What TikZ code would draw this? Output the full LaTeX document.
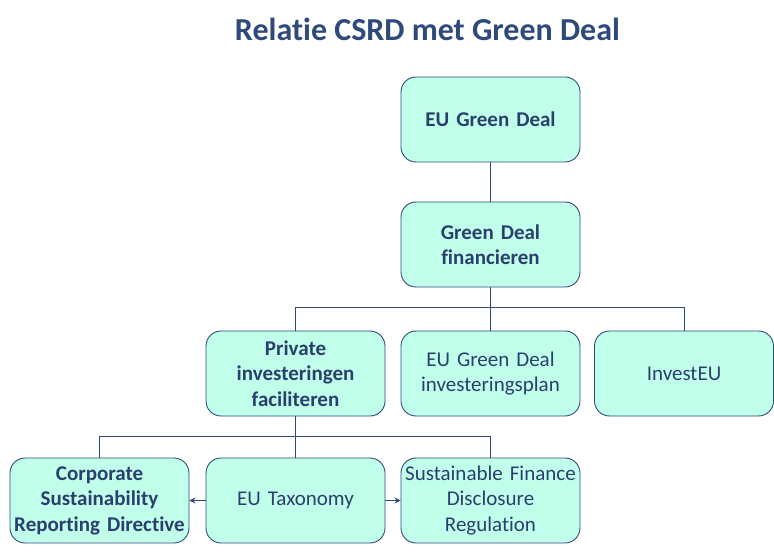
\documentclass[tikz,border=0pt]{standalone}
\usepackage{fontspec}
\setmainfont{Carlito}[Ligatures=NoCommon]
\usetikzlibrary{arrows.meta}
\definecolor{boxfill}{HTML}{C0FFEA}
\definecolor{boxline}{HTML}{2F4A7A}
\definecolor{txt}{HTML}{2B3F6E}
\definecolor{ttl}{HTML}{2E4A7D}
\tikzset{
  box/.style={draw=boxline, fill=boxfill, line width=0.9pt, rounded corners=15pt,
    minimum width=179pt, minimum height=85pt, text width=178pt, align=center,
    text=txt, font=\fontsize{21}{25.5}\selectfont, inner sep=0.5pt},
  bbox/.style={box, font=\fontsize{21}{25.5}\selectfont\bfseries},
  conn/.style={draw=boxline, line width=0.9pt},
  arr/.style={conn, -{Stealth[length=6pt,width=6pt]}}
}
\begin{document}
\begin{tikzpicture}[x=1pt,y=-1pt]
\useasboundingbox (0,0) rectangle (774,553);
\node[text=ttl, font=\fontsize{32}{36}\selectfont\bfseries] (title) at (427.5,29) {Relatie CSRD met Green Deal};
\node[bbox] (egd) at (490.5,119.5) {EU Green Deal};
\node[bbox] (gdf) at (490.5,244.5) {Green Deal\\financieren};
\node[bbox] (pif) at (295.5,373.5) {Private\\investeringen\\faciliteren};
\node[box] (egdi) at (490.5,373.5) {EU Green Deal\\investeringsplan};
\node[box] (ieu) at (684,373.5) {InvestEU};
\node[bbox] (csrd) at (99.5,500.5) {Corporate\\Sustainability\\Reporting Directive};
\node[box] (tax) at (295.5,500.5) {EU Taxonomy};
\node[box] (sfdr) at (490.5,500.5) {Sustainable Finance\\Disclosure\\Regulation};
\draw[conn] (egd.south) -- (gdf.north);
\draw[conn] (gdf.south) -- ++(0,20) -| (pif.north);
\draw[conn] (gdf.south) -- (egdi.north);
\draw[conn] (gdf.south) -- ++(0,20) -| (ieu.north);
\draw[conn] (pif.south) -- ++(0,20) -| (csrd.north);
\draw[conn] (pif.south) -- (tax.north);
\draw[conn] (pif.south) -- ++(0,20) -| (sfdr.north);
\draw[arr] (tax.west) -- (csrd.east);
\draw[arr] (tax.east) -- (sfdr.west);
\end{tikzpicture}
\end{document}
